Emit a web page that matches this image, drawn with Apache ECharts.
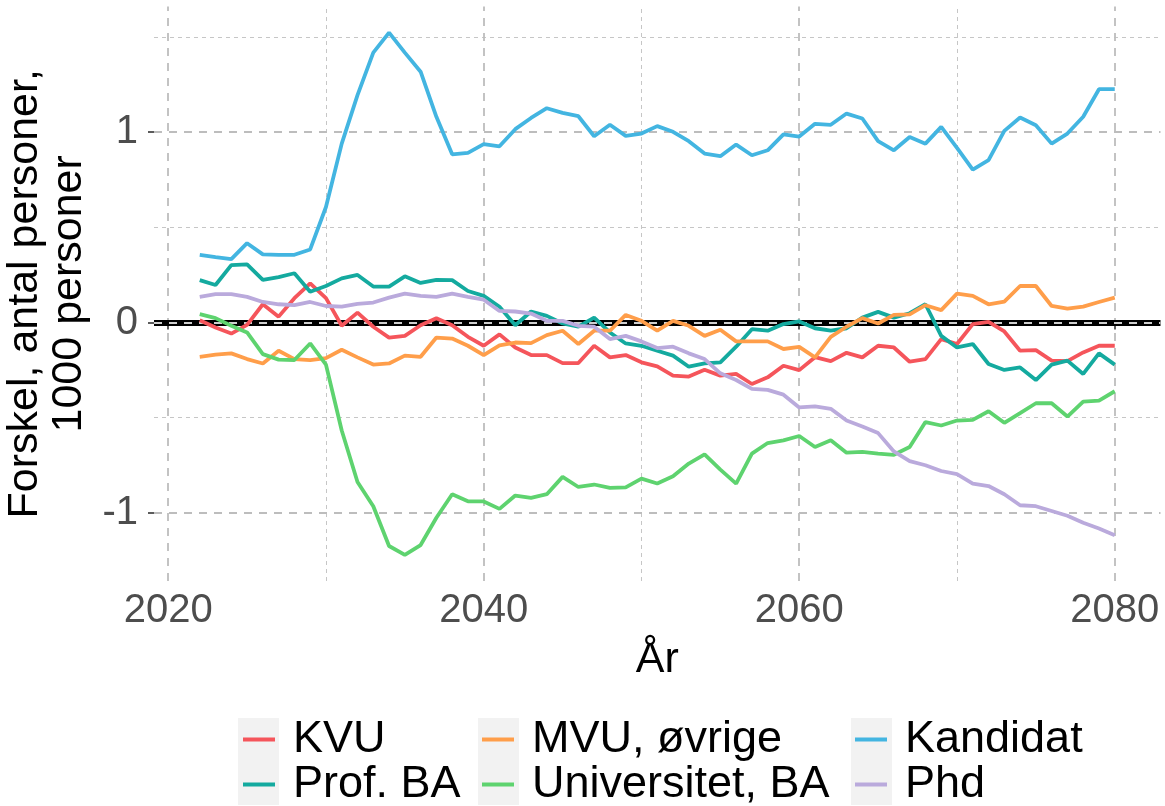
<!DOCTYPE html>
<html>
<head>
<meta charset="utf-8">
<script src="https://cdn.jsdelivr.net/npm/echarts@6/dist/echarts.min.js"></script>
<style>
  html, body { margin: 0; padding: 0; background: #fff; }
  #chart { width: 1165px; height: 806px; }
</style>
</head>
<body>
<div id="chart"></div>
<script>
const years = [2022, 2023, 2024, 2025, 2026, 2027, 2028, 2029, 2030, 2031,
  2032, 2033, 2034, 2035, 2036, 2037, 2038, 2039, 2040, 2041,
  2042, 2043, 2044, 2045, 2046, 2047, 2048, 2049, 2050, 2051,
  2052, 2053, 2054, 2055, 2056, 2057, 2058, 2059, 2060, 2061,
  2062, 2063, 2064, 2065, 2066, 2067, 2068, 2069, 2070, 2071,
  2072, 2073, 2074, 2075, 2076, 2077, 2078, 2079, 2080]

const kvu = [0.012, -0.026, -0.058, -0.012, 0.096, 0.031, 0.128, 0.206, 0.128, -0.017,
  0.052, -0.022, -0.079, -0.07, -0.014, 0.023, -0.014, -0.075, -0.122, -0.062,
  -0.131, -0.171, -0.171, -0.213, -0.213, -0.122, -0.183, -0.171, -0.209, -0.23,
  -0.279, -0.284, -0.248, -0.279, -0.27, -0.323, -0.288, -0.227, -0.25, -0.182,
  -0.203, -0.159, -0.183, -0.122, -0.131, -0.206, -0.192, -0.087, -0.113, -0.008,
  0.004, -0.047, -0.148, -0.145, -0.2, -0.203, -0.157, -0.122, -0.122]

const profBA = [0.223, 0.197, 0.302, 0.306, 0.224, 0.239, 0.259, 0.162, 0.192, 0.232,
  0.25, 0.189, 0.189, 0.243, 0.208, 0.224, 0.223, 0.166, 0.14, 0.083,
  -0.014, 0.058, 0.035, -0.005, -0.022, 0.026, -0.052, -0.11, -0.122, -0.148,
  -0.174, -0.232, -0.215, -0.209, -0.127, -0.035, -0.043, -0.008, 0.006, -0.03,
  -0.042, -0.03, 0.026, 0.056, 0.026, 0.049, 0.096, -0.07, -0.131, -0.113,
  -0.218, -0.249, -0.236, -0.302, -0.221, -0.2, -0.27, -0.162, -0.221]

const mvu = [-0.18, -0.169, -0.162, -0.192, -0.215, -0.148, -0.192, -0.197, -0.187, -0.143,
  -0.183, -0.221, -0.215, -0.174, -0.18, -0.079, -0.084, -0.122, -0.171, -0.12,
  -0.105, -0.108, -0.066, -0.043, -0.113, -0.043, -0.043, 0.04, 0.009, -0.043,
  0.009, -0.017, -0.07, -0.038, -0.099, -0.099, -0.099, -0.139, -0.128, -0.183,
  -0.075, -0.022, 0.023, -0.005, 0.04, 0.043, 0.091, 0.065, 0.152, 0.14,
  0.096, 0.11, 0.192, 0.192, 0.087, 0.073, 0.084, 0.108, 0.131]

const uniBA = [0.044, 0.023, -0.017, -0.052, -0.166, -0.195, -0.197, -0.11, -0.221, -0.567,
  -0.838, -0.965, -1.174, -1.221, -1.169, -1.026, -0.902, -0.939, -0.94, -0.979,
  -0.909, -0.921, -0.902, -0.811, -0.864, -0.851, -0.869, -0.866, -0.82, -0.846,
  -0.808, -0.741, -0.693, -0.773, -0.846, -0.689, -0.633, -0.619, -0.596, -0.654,
  -0.619, -0.684, -0.68, -0.689, -0.695, -0.654, -0.523, -0.541, -0.515, -0.511,
  -0.466, -0.527, -0.476, -0.424, -0.424, -0.494, -0.415, -0.41, -0.361]

const kandidat = [0.356, 0.344, 0.333, 0.417, 0.358, 0.355, 0.356, 0.384, 0.607, 0.94,
  1.195, 1.418, 1.523, 1.418, 1.318, 1.081, 0.884, 0.891, 0.937, 0.926,
  1.016, 1.075, 1.126, 1.102, 1.084, 0.979, 1.039, 0.981, 0.993, 1.032,
  1.002, 0.953, 0.888, 0.874, 0.935, 0.879, 0.905, 0.989, 0.977, 1.044,
  1.039, 1.098, 1.072, 0.953, 0.905, 0.975, 0.94, 1.028, 0.918, 0.803,
  0.853, 1.007, 1.077, 1.037, 0.94, 0.993, 1.081, 1.226, 1.226]

const phd = [0.135, 0.149, 0.149, 0.135, 0.108, 0.096, 0.091, 0.108, 0.087, 0.084,
  0.098, 0.105, 0.131, 0.152, 0.14, 0.135, 0.152, 0.135, 0.12, 0.061,
  0.058, 0.047, 0.009, 0.009, -0.017, -0.022, -0.087, -0.07, -0.099, -0.134,
  -0.127, -0.162, -0.192, -0.267, -0.302, -0.349, -0.354, -0.379, -0.446, -0.441,
  -0.453, -0.515, -0.546, -0.581, -0.677, -0.728, -0.75, -0.78, -0.797, -0.846,
  -0.859, -0.902, -0.96, -0.965, -0.99, -1.015, -1.052, -1.082, -1.117]

const xMajor = [2020, 2040, 2060, 2080]
const xMinor = [2030, 2050, 2070]
const yMajor = [-1, 0, 1]
const yMinor = [-0.5, 0.5, 1.5]

const names = ['KVU', 'Prof. BA', 'MVU, øvrige', 'Universitet, BA', 'Kandidat', 'Phd']
const colors = ['#F5555B', '#14AA9F', '#FF9E4A', '#5ED36F', '#43B5E1', '#BAAADC']
const values = [kvu, profBA, mvu, uniBA, kandidat, phd]

const font = 'Liberation Sans'
const majorStyle = { color: '#bdbdbd', width: 1.8, type: [8, 7] }
const minorStyle = { color: '#c6c6c6', width: 1, type: [4, 4] }

// grid lines + zero line drawn as mark lines so they sit exactly on the tick values
const gridLines = [].concat(
  xMinor.map(v => ({ xAxis: v, lineStyle: minorStyle })),
  yMinor.map(v => ({ yAxis: v, lineStyle: minorStyle })),
  xMajor.map(v => ({ xAxis: v, lineStyle: majorStyle })),
  yMajor.map(v => ({ yAxis: v, lineStyle: majorStyle })),
  [{ yAxis: 0, lineStyle: { color: '#000', width: 6, type: 'solid' } },
   { yAxis: 0, lineStyle: { color: '#cfcfcf', width: 2.2, type: [8, 7] } }]
)

const series = [{
  name: 'grid',
  type: 'line',
  data: [],
  silent: true,
  markLine: {
    silent: true,
    symbol: 'none',
    label: { show: false },
    z: 1,
    animation: false,
    data: gridLines
  }
}]

names.forEach((n, i) => {
  series.push({
    name: n,
    type: 'line',
    z: 3,
    showSymbol: false,
    symbol: 'none',
    color: colors[i],
    lineStyle: { width: 3.8, color: colors[i] },
    itemStyle: { color: colors[i] },
    data: years.map((y, j) => [y, values[i][j]])
  })
})

const legendCol = (left, items) => ({
  orient: 'vertical',
  left: left,
  top: 717,
  height: 120,
  padding: 0,
  itemGap: 0,
  itemWidth: 32,
  itemHeight: 4,
  icon: 'rect',
  selectedMode: false,
  z: 5,
  data: items,
  textStyle: { fontFamily: font, fontSize: 45, color: '#000', lineHeight: 44, padding: [0, 0, 0, 13] }
})

const keyBox = x => ({
  type: 'rect',
  z: 0,
  shape: { x: x, y: 718, width: 41, height: 87 },
  style: { fill: '#f2f2f2' }
})

const chart = echarts.init(document.getElementById('chart'))
chart.setOption({
  animation: false,
  textStyle: { fontFamily: font },
  grid: { left: 154, right: 4.5, top: 6.6, bottom: 225, containLabel: false, outerBoundsMode: 'none' },
  xAxis: {
    type: 'value',
    min: 2019.1,
    max: 2082.9,
    name: 'År',
    nameLocation: 'middle',
    nameGap: 58,
    nameTextStyle: { fontFamily: font, fontSize: 43, color: '#000' },
    axisLine: { show: false },
    splitLine: { show: false },
    axisTick: { show: true, customValues: xMajor, length: 7, lineStyle: { color: '#333', width: 1.6 } },
    axisLabel: {
      customValues: xMajor,
      fontFamily: font,
      fontSize: 40,
      color: '#4d4d4d',
      margin: 10,
      formatter: v => String(v)
    }
  },
  yAxis: {
    type: 'value',
    min: -1.358,
    max: 1.66,
    name: 'Forskel, antal personer,\n1000 personer',
    nameLocation: 'middle',
    nameRotate: 90,
    nameGap: 55,
    nameTextStyle: { fontFamily: font, fontSize: 43, color: '#000', lineHeight: 44, align: 'center' },
    axisLine: { show: false },
    splitLine: { show: false },
    axisTick: { show: true, customValues: yMajor, length: 6, lineStyle: { color: '#333', width: 1.6 } },
    axisLabel: {
      customValues: yMajor,
      fontFamily: font,
      fontSize: 40,
      color: '#4d4d4d',
      margin: 16,
      formatter: v => String(v)
    }
  },
  legend: [
    legendCol(243, ['KVU', 'Prof. BA']),
    legendCol(482, ['MVU, øvrige', 'Universitet, BA']),
    legendCol(855, ['Kandidat', 'Phd'])
  ],
  graphic: [keyBox(238), keyBox(478), keyBox(851)],
  series: series
})
</script>
</body>
</html>
